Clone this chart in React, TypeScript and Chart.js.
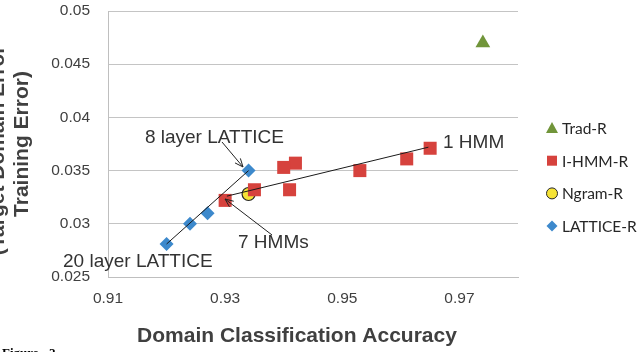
import React, { useEffect, useRef } from 'react';
import { Chart, registerables } from 'chart.js';

Chart.register(...registerables);

// Axis ticks
const xTickValues = [0.91, 0.93, 0.95, 0.97];
const xRange = [0.91, 0.98];
const yRange = [0.025, 0.05];
const yStep = 0.005;

// Series: domain classification accuracy (x) vs. target-domain minus training error (y)
const tradR = [{ x: 0.974, y: 0.047 }];
const ihmmR = [
  { x: 0.965, y: 0.0371 },
  { x: 0.961, y: 0.0361 },
  { x: 0.953, y: 0.035 },
  { x: 0.942, y: 0.0357 },
  { x: 0.94, y: 0.0353 },
  { x: 0.941, y: 0.0332 },
  { x: 0.935, y: 0.0332 },
  { x: 0.93, y: 0.0322 },
];
const ngramR = [{ x: 0.934, y: 0.0328 }];
const latticeR = [
  { x: 0.934, y: 0.035 },
  { x: 0.927, y: 0.031 },
  { x: 0.924, y: 0.03 },
  { x: 0.92, y: 0.0281 },
];

// Connecting lines through each model family
const hmmLine = [
  { x: 0.9303, y: 0.0326 },
  { x: 0.9647, y: 0.0372 },
];
const latticeLine = [
  { x: 0.92, y: 0.0281 },
  { x: 0.934, y: 0.035 },
];

// Callouts, anchored in data coordinates
const callouts = [
  {
    text: '8 layer LATTICE',
    at: { x: 0.9163, y: 0.03806 },
    arrow: { from: { x: 0.92946, y: 0.03769 }, to: { x: 0.93305, y: 0.03534 } },
  },
  { text: '1 HMM', at: { x: 0.9672, y: 0.03759 } },
  {
    text: '7 HMMs',
    at: { x: 0.9322, y: 0.0282 },
    arrow: { from: { x: 0.938, y: 0.02895 }, to: { x: 0.92998, y: 0.03233 } },
  },
  { text: '20 layer LATTICE', at: { x: 0.90232, y: 0.02641 } },
];

const GREEN = '#71953a';
const RED = '#d6423d';
const YELLOW = '#f6e336';
const BLUE = '#3d89cc';

const legendEntries = [
  { label: 'Trad-R', shape: 'triangle', color: GREEN },
  { label: 'I-HMM-R', shape: 'square', color: RED },
  { label: 'Ngram-R', shape: 'circle', color: YELLOW },
  { label: 'LATTICE-R', shape: 'diamond', color: BLUE },
];

function drawMarker(ctx: CanvasRenderingContext2D, shape: string, color: string, x: number, y: number) {
  ctx.save();
  ctx.fillStyle = color;
  ctx.beginPath();
  if (shape === 'triangle') {
    ctx.moveTo(x, y - 6);
    ctx.lineTo(x + 6, y + 5);
    ctx.lineTo(x - 6, y + 5);
    ctx.closePath();
    ctx.fill();
  } else if (shape === 'square') {
    ctx.rect(x - 5, y - 5, 10, 10);
    ctx.fill();
  } else if (shape === 'circle') {
    ctx.arc(x, y, 5.5, 0, Math.PI * 2);
    ctx.fill();
    ctx.lineWidth = 1;
    ctx.strokeStyle = '#262626';
    ctx.stroke();
  } else {
    ctx.moveTo(x, y - 5.5);
    ctx.lineTo(x + 5.5, y);
    ctx.lineTo(x, y + 5.5);
    ctx.lineTo(x - 5.5, y);
    ctx.closePath();
    ctx.fill();
  }
  ctx.restore();
}

const decorations = {
  id: 'decorations',
  afterDraw(chart: any) {
    const { ctx, scales } = chart;
    const xs = scales.x;
    const ys = scales.y;
    const px = (p: { x: number; y: number }) => [xs.getPixelForValue(p.x), ys.getPixelForValue(p.y)];
    ctx.save();

    // callouts
    ctx.font = '19px "Liberation Sans", Arial, sans-serif';
    ctx.fillStyle = '#333333';
    ctx.textBaseline = 'middle';
    ctx.textAlign = 'left';
    ctx.strokeStyle = '#222222';
    ctx.lineWidth = 1;
    for (const c of callouts) {
      const [tx, ty] = px(c.at);
      ctx.fillText(c.text, tx, ty);
      if (c.arrow) {
        const [x0, y0] = px(c.arrow.from);
        const [x1, y1] = px(c.arrow.to);
        const ang = Math.atan2(y1 - y0, x1 - x0);
        const head = 9;
        ctx.beginPath();
        ctx.moveTo(x0, y0);
        ctx.lineTo(x1, y1);
        ctx.moveTo(x1 - head * Math.cos(ang - 0.4), y1 - head * Math.sin(ang - 0.4));
        ctx.lineTo(x1, y1);
        ctx.lineTo(x1 - head * Math.cos(ang + 0.4), y1 - head * Math.sin(ang + 0.4));
        ctx.stroke();
      }
    }

    // legend
    ctx.font = '15.5px Lato, "Open Sans", sans-serif';
    ctx.fillStyle = '#262626';
    legendEntries.forEach((e, i) => {
      const y = 128 + i * 32.7;
      drawMarker(ctx, e.shape, e.color, 552, y);
      ctx.fillText(e.label, 562, y + 1);
    });

    // axis titles
    ctx.fillStyle = '#404040';
    ctx.font = 'bold 21px "Liberation Sans", Arial, sans-serif';
    ctx.textAlign = 'center';
    ctx.textBaseline = 'middle';
    ctx.fillText('Domain Classification Accuracy', 297, 336);

    const midY = (chart.chartArea.top + chart.chartArea.bottom) / 2;
    ctx.save();
    ctx.translate(0, midY);
    ctx.rotate(-Math.PI / 2);
    ctx.textBaseline = 'alphabetic';
    ctx.fillText('(Target Domain Error -', 0, 4);
    ctx.fillText('Training Error)', 0, 28);
    ctx.restore();

    // caption
    ctx.fillStyle = '#000000';
    ctx.font = 'bold 13px "Liberation Serif", "Times New Roman", serif';
    ctx.textAlign = 'left';
    ctx.textBaseline = 'alphabetic';
    ctx.fillText('Figure', 2, 357);
    ctx.fillText('2', 49, 357);

    ctx.restore();
  },
};

export default function App() {
  const ref = useRef<HTMLCanvasElement>(null);

  useEffect(() => {
    if (!ref.current) return;
    const chart = new Chart(ref.current, {
      type: 'scatter',
      data: {
        datasets: [
          {
            label: 'hmm-line',
            data: hmmLine,
            showLine: true,
            borderColor: '#1a1a1a',
            borderWidth: 1,
            pointRadius: 0,
            order: 0,
          },
          {
            label: 'lattice-line',
            data: latticeLine,
            showLine: true,
            borderColor: '#1a1a1a',
            borderWidth: 1,
            pointRadius: 0,
            order: 0,
          },
          {
            label: 'Trad-R',
            data: tradR,
            pointStyle: 'triangle',
            pointRadius: 8.5,
            backgroundColor: GREEN,
            borderColor: GREEN,
            borderWidth: 0,
            order: 1,
          },
          {
            label: 'I-HMM-R',
            data: ihmmR,
            pointStyle: 'rect',
            pointRadius: 9.2,
            backgroundColor: RED,
            borderColor: RED,
            borderWidth: 0,
            order: 1,
          },
          {
            label: 'Ngram-R',
            data: ngramR,
            pointStyle: 'circle',
            pointRadius: 6.5,
            backgroundColor: YELLOW,
            borderColor: '#262626',
            borderWidth: 1.2,
            order: 1,
          },
          {
            label: 'LATTICE-R',
            data: latticeR,
            pointStyle: 'rectRot',
            pointRadius: 7,
            backgroundColor: BLUE,
            borderColor: BLUE,
            borderWidth: 0,
            order: 1,
          },
        ],
      },
      options: {
        animation: false,
        responsive: false,
        events: [],
        layout: { padding: { left: 0, top: 11, right: 120, bottom: 0 } },
        plugins: {
          legend: { display: false },
          tooltip: { enabled: false },
        },
        scales: {
          x: {
            type: 'linear',
            min: xRange[0],
            max: xRange[1],
            afterBuildTicks: (scale: any) => {
              scale.ticks = xTickValues.map((value) => ({ value }));
            },
            afterFit: (scale: any) => {
              scale.height = 75;
              scale.paddingTop = 0;
              scale.paddingBottom = 0;
            },
            grid: { display: false, drawTicks: false },
            border: { display: true, color: '#bfbfbf', width: 1 },
            ticks: {
              padding: 12,
              autoSkip: false,
              maxRotation: 0,
              color: '#404040',
              font: { family: '"Liberation Sans", Arial, sans-serif', size: 15.5 },
              callback: (v: any) => Number(v).toFixed(2),
            },
          },
          y: {
            type: 'linear',
            min: yRange[0],
            max: yRange[1],
            afterFit: (scale: any) => {
              scale.width = 108;
              scale.paddingTop = 0;
              scale.paddingBottom = 0;
            },
            grid: { color: '#c4c4c4', lineWidth: 1, drawTicks: false },
            border: { display: true, color: '#bfbfbf', width: 1 },
            ticks: {
              stepSize: yStep,
              padding: 18,
              color: '#404040',
              font: { family: '"Liberation Sans", Arial, sans-serif', size: 15.5 },
              callback: (v: any) => String(Number(Number(v).toFixed(3))),
            },
          },
        },
      },
      plugins: [decorations],
    });
    return () => chart.destroy();
  }, []);

  return (
    <div style={{ position: 'absolute', left: 0, top: 0, width: 638, height: 352, background: '#fff' }}>
      <canvas ref={ref} width={638} height={352} style={{ width: 638, height: 352, display: 'block' }} />
    </div>
  );
}
